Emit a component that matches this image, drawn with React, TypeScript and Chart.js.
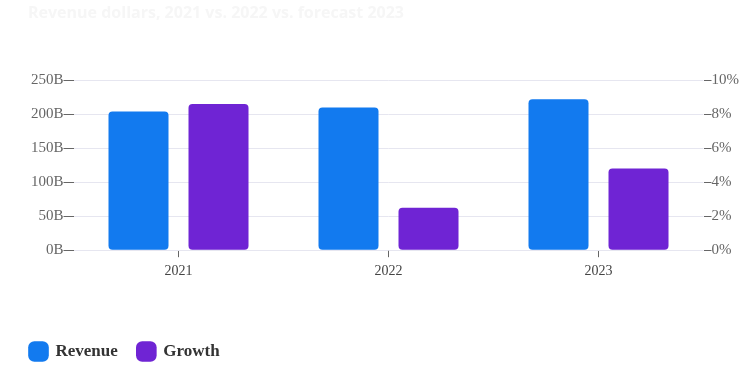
import React, { useEffect, useRef } from "react";
import { Chart, registerables } from "chart.js";

Chart.register(...registerables);

const categories = ["2021", "2022", "2023"];
const revenue = [204, 210, 222];
const growth = [8.6, 2.5, 4.8];
const leftTicks = [0, 50, 100, 150, 200, 250];
const rightTicks = [0, 2, 4, 6, 8, 10];
const titleText = "Revenue dollars, 2021 vs. 2022 vs. forecast 2023";

const shiftTitle = {
  id: "shiftTitle",
  afterLayout(chart: any) {
    const t = chart.titleBlock;
    if (t) t.left += 18;
  },
};

export default function App() {
  const ref = useRef<HTMLCanvasElement | null>(null);
  useEffect(() => {
    if (!ref.current) return;
    const serif = "'Liberation Serif', 'DejaVu Serif', serif";
    const chart = new Chart(ref.current, {
      type: "bar",
      data: {
        labels: categories,
        datasets: [
          {
            label: "Revenue",
            data: revenue,
            backgroundColor: "#127AEF",
            borderRadius: 4,
            borderSkipped: false,
            yAxisID: "y",
            barPercentage: 0.75,
            categoryPercentage: 0.762,
          },
          {
            label: "Growth",
            data: growth,
            backgroundColor: "#6F24D4",
            borderRadius: 4,
            borderSkipped: false,
            yAxisID: "y1",
            barPercentage: 0.75,
            categoryPercentage: 0.762,
          },
        ],
      },
      options: {
        responsive: false,
        animation: false,
        maintainAspectRatio: false,
        layout: { padding: { left: 10, right: 10, top: 4, bottom: 2 } },
        plugins: {
          title: {
            display: true,
            text: titleText,
            align: "start",
            color: "#f6f6f6",
            font: { family: "'Open Sans', sans-serif", size: 16 },
            padding: { top: 0, bottom: 57 },
          },
          legend: {
            position: "bottom",
            align: "start",
            labels: {
              usePointStyle: true,
              pointStyle: "rectRounded",
              boxWidth: 18,
              boxHeight: 18,
              padding: 20,
              color: "#333",
              font: { family: serif, size: 17, weight: "bold" },
            },
          },
          tooltip: { enabled: false },
        },
        scales: {
          x: {
            grid: {
              offset: false,
              drawOnChartArea: false,
              drawTicks: true,
              tickLength: 7,
              tickColor: "#666",
            },
            border: { display: false },
            ticks: { color: "#444", font: { family: serif, size: 14 }, padding: 6 },
            afterFit: (scale: any) => {
              scale.height += 37;
            },
          },
          y: {
            position: "left",
            min: 0,
            max: 250,
            afterBuildTicks: (scale: any) => {
              scale.ticks = leftTicks.map((v) => ({ value: v }));
            },
            afterFit: (scale: any) => {
              scale.width += 21;
            },
            grid: { color: "#e6e6f0", tickColor: "#666", tickLength: 10 },
            border: { display: false },
            ticks: {
              color: "#666",
              font: { family: serif, size: 15 },
              padding: 0,
              callback: (v: any) => `${v}B`,
            },
          },
          y1: {
            position: "right",
            min: 0,
            max: 10,
            afterBuildTicks: (scale: any) => {
              scale.ticks = rightTicks.map((v) => ({ value: v }));
            },
            grid: { drawOnChartArea: false, tickColor: "#666", tickLength: 8 },
            border: { display: false },
            ticks: {
              color: "#666",
              font: { family: serif, size: 15 },
              padding: 0,
              callback: (v: any) => `${v}%`,
            },
          },
        },
      },
      plugins: [shiftTitle],
    });
    return () => chart.destroy();
  }, []);
  return (
    <div style={{ position: "absolute", left: 0, top: 0, width: 749, height: 372, background: "#fff" }}>
      <canvas ref={ref} width={749} height={372} style={{ width: 749, height: 372 }} />
    </div>
  );
}
